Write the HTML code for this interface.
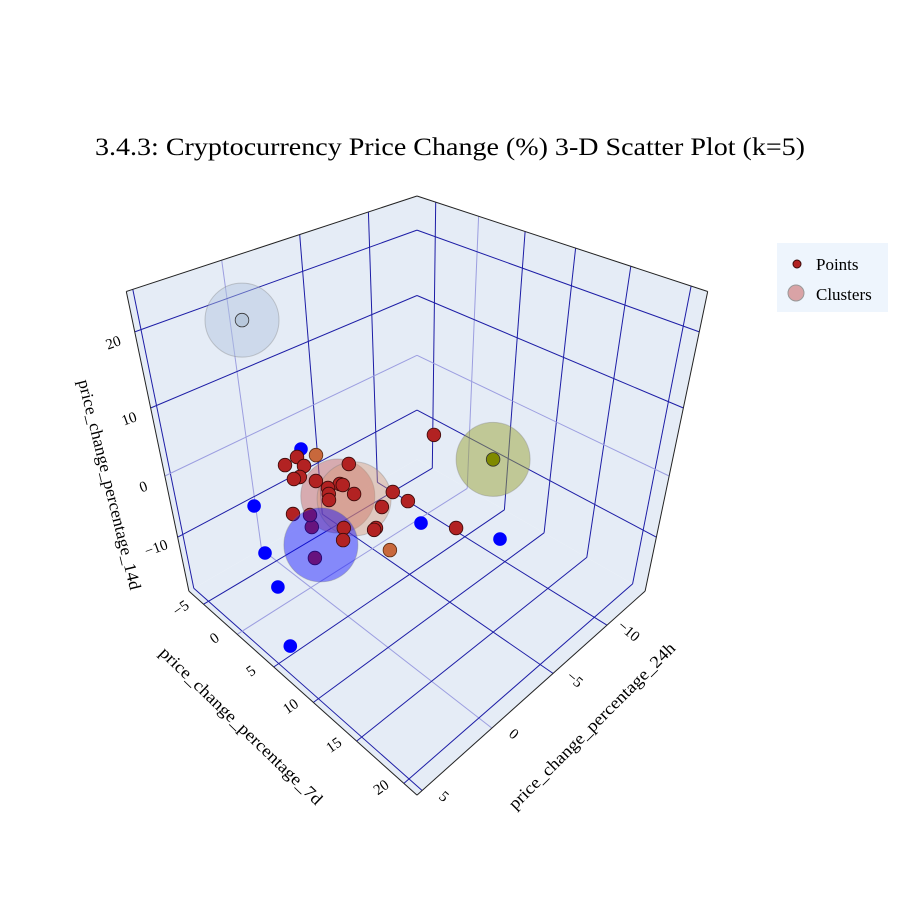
<!DOCTYPE html>
<html><head><meta charset="utf-8"><style>
html,body{margin:0;padding:0;background:#fff;}
svg{display:block;font-family:"Liberation Serif",serif;}
</style></head><body>
<svg id="chart" width="900" height="900" viewBox="0 0 900 900">
<rect x="0" y="0" width="900" height="900" fill="#fff"/>
<text x="95" y="155" font-size="25" textLength="710" lengthAdjust="spacingAndGlyphs" fill="#000">3.4.3: Cryptocurrency Price Change (%) 3-D Scatter Plot (k=5)</text>
<g id="scene"></g>
<g>
<rect x="777" y="243" width="111" height="69" fill="#eef5fd"/>
<g>
<circle cx="797" cy="264" r="4" fill="#b22222" stroke="#3a0a0a" stroke-width="1"/>
<text x="816" y="270" font-size="17" fill="#000">Points</text>
</g>
<g>
<circle cx="796" cy="293" r="8" fill="#d9a3a6" stroke="#999" stroke-width="1"/>
<text x="816" y="300" font-size="17" fill="#000">Clusters</text>
</g>
</g>
</svg>
<script>
// ---- data ----
const xRange = [-13.92, 5.34];   // price_change_percentage_24h
const yRange = [-7.3, 21.3];     // price_change_percentage_7d
const zRange = [-19.75, 24.85];  // price_change_percentage_14d
const xTicks = [-10, -5, 0, 5];
const yTicks = [-5, 0, 5, 10, 15, 20];
const zTicks = [-10, 0, 10, 20];
const pointX = [-8.71,-1.52,-0.54,-1.24,-0.07,-0.42,-0.81,-3.16,-0.87,-0.55,-0.22,-1.56,-1.62,-1.52,-3.12,-3.14,-1.81,1.89,-0.41,-0.24,0.76,1.41,-3.32,1.31,0.49,0.71,-2.41,0.26,-2.19,2.93,4.79,4.15,4.76,-2.33,-4.25,1.12,-6.09];
const pointY = [2.55,-3.34,-3.12,-1.89,-1.04,-0.92,0.45,0.55,1.88,2.54,3.14,2.15,2.42,3.97,5.98,7.69,6.77,2.52,8.34,8.40,6.60,7.63,12.66,3.55,1.97,2.45,-2.42,10.93,-4.04,-0.44,4.67,4.33,6.43,10.35,15.87,-2.98,12.53];
const pointZ = [-1.91,-1.91,-1.91,-1.91,-1.91,-1.91,-1.91,-1.91,-1.91,-1.91,-1.91,-1.91,-1.91,-1.91,-1.91,-1.91,-1.91,-1.91,-1.91,-1.91,-1.91,-1.91,-1.91,-1.91,-6.37,-10.83,-1.91,-1.91,-1.91,-1.91,-1.91,-8.60,-15.29,-1.91,-1.91,20.39,4.78];
const pointCluster = [0,0,0,0,0,0,0,0,0,0,0,0,0,0,0,0,0,0,0,0,0,0,0,0,0,0,1,1,2,2,2,2,2,2,2,3,4];
const clusterX = [-0.78,-1.23,1.77,1.12,-6.09];
const clusterY = [3.25,4.45,5.54,-2.98,12.53];
const clusterZ = [-1.91,-1.91,-4.14,20.39,4.78];
const clusterSize = [37,37,37,37,37];

// ---- styles ----
const pointFill = ['#b22222','#c8683c','#0000ff','#b8c8dc','#7f8a00'];
const pointStroke = ['#3a0a0a','#5a2a10','none','#333','#333'];
const clusterFill = ['rgba(200,100,100,0.48)','rgba(215,150,115,0.42)','rgba(0,0,255,0.42)','rgba(176,196,222,0.45)','rgba(155,164,54,0.5)'];

// ---- projection ----
const E3 = 8.28, K = 611, CX = 417, CY = 459.4;
function nrm(v, r){ return (v - (r[0]+r[1])/2) / ((r[1]-r[0])/2); }
function projN(px,py,pz){
  const D = E3 - (px+py+pz);
  return [CX + K*Math.sqrt(3)*(py-px)/D, CY - K*(2*pz-px-py)/D, D];
}
function proj(x,y,z){ return projN(nrm(x,xRange), nrm(y,yRange), nrm(z,zRange)); }

const NS = 'http://www.w3.org/2000/svg';
const scene = document.getElementById('scene');
function mk(tag, attrs, parent){
  const e = document.createElementNS(NS, tag);
  for (const k in attrs) e.setAttribute(k, attrs[k]);
  (parent||scene).appendChild(e);
  return e;
}
function poly(pts){ return pts.map(p=>p[0].toFixed(1)+','+p[1].toFixed(1)).join(' '); }

// walls
const floor = mk('polygon',{points:poly([projN(-1,-1,-1),projN(1,-1,-1),projN(1,1,-1),projN(-1,1,-1)]),fill:'#e5ecf6'});


const wallY = mk('polygon',{points:poly([projN(-1,-1,-1),projN(1,-1,-1),projN(1,-1,1),projN(-1,-1,1)]),fill:'#e5ecf6'});


const wallX = mk('polygon',{points:poly([projN(-1,-1,-1),projN(-1,1,-1),projN(-1,1,1),projN(-1,-1,1)]),fill:'#e5ecf6'});



function gl(a,b,isZero,name){
  const l = mk('line',{x1:a[0].toFixed(1),y1:a[1].toFixed(1),x2:b[0].toFixed(1),y2:b[1].toFixed(1),stroke:isZero?'#9c9ee0':'#1d1da6','stroke-width':1});
  
  
}
xTicks.forEach(t=>{
  const px = nrm(t,xRange);
  gl(projN(px,-1,-1),projN(px,-1,1),t===0,'x-gridline-wall');
  gl(projN(px,-1,-1),projN(px,1,-1),t===0,'x-gridline-floor');
});
yTicks.forEach(t=>{
  const py = nrm(t,yRange);
  gl(projN(-1,py,-1),projN(-1,py,1),t===0,'y-gridline-wall');
  gl(projN(-1,py,-1),projN(1,py,-1),t===0,'y-gridline-floor');
});
zTicks.forEach(t=>{
  const pz = nrm(t,zRange);
  gl(projN(1,-1,pz),projN(-1,-1,pz),t===0,'z-gridline-left-wall');
  gl(projN(-1,-1,pz),projN(-1,1,pz),t===0,'z-gridline-right-wall');
});
// box edges
const edges = [[[1,-1,1],[-1,-1,1]],[[-1,-1,1],[-1,1,1]],[[1,-1,1],[1,-1,-1]],[[-1,1,1],[-1,1,-1]],[[1,-1,-1],[1,1,-1]],[[1,1,-1],[-1,1,-1]]];
edges.forEach(e=>{
  const a = projN(...e[0]), b = projN(...e[1]);
  const l = mk('line',{x1:a[0].toFixed(1),y1:a[1].toFixed(1),x2:b[0].toFixed(1),y2:b[1].toFixed(1),stroke:'#222','stroke-width':1});
  
  
});

// tick labels
function lbl(txt,x,y,rot,name,size){
  const t = mk('text',{x:x.toFixed(1),y:y.toFixed(1),'font-size':size||15,'text-anchor':'middle','dominant-baseline':'middle',transform:'rotate('+rot+' '+x.toFixed(1)+' '+y.toFixed(1)+')',fill:'#000'});
  t.textContent = txt;
  
  
  return t;
}
function fmt(t){ return t<0 ? '\u2212'+Math.abs(t) : String(t); }
zTicks.forEach(t=>{ const p = projN(1,-1,nrm(t,zRange)); lbl(fmt(t), p[0]-21, p[1]+12, -20, 'z-tick-label'); });
yTicks.forEach(t=>{ const p = projN(1,nrm(t,yRange),-1); lbl(fmt(t), p[0]-22, p[1]+5, -35, 'y-tick-label'); });
xTicks.forEach(t=>{ const p = projN(nrm(t,xRange),1,-1); lbl(fmt(t), p[0]+21, p[1]+7, 40, 'x-tick-label'); });
// axis titles
const zt = lbl('price_change_percentage_14d',108,485,76,'z-axis-title',17); zt.setAttribute('textLength','216'); zt.setAttribute('lengthAdjust','spacingAndGlyphs');
const yt = lbl('price_change_percentage_7d',240,727,44,'y-axis-title',17); yt.setAttribute('textLength','219'); yt.setAttribute('lengthAdjust','spacingAndGlyphs');
const xt = lbl('price_change_percentage_24h',593,727,-45,'x-axis-title',17); xt.setAttribute('textLength','228'); xt.setAttribute('lengthAdjust','spacingAndGlyphs');

// marks (depth sorted); cluster spheres 0,1,3,4 drawn first
const items = [];
clusterX.forEach((cx,i)=>{
  const p = proj(cx, clusterY[i], clusterZ[i]);
  items.push({kind:'cluster', i, p, early: i!==2});
});
pointX.forEach((px,i)=>{
  const p = proj(px, pointY[i], pointZ[i]);
  items.push({kind:'point', i, p, early:false});
});
items.sort((a,b)=> (a.early===b.early) ? (b.p[2]-a.p[2]) : (a.early ? -1 : 1));
items.forEach(it=>{
  if (it.kind==='cluster'){
    const c = mk('circle',{cx:it.p[0].toFixed(1),cy:it.p[1].toFixed(1),r:clusterSize[it.i],fill:clusterFill[it.i],stroke:'rgba(120,120,120,0.35)','stroke-width':1});
    
    
  } else {
    const k = pointCluster[it.i];
    const c = mk('circle',{cx:it.p[0].toFixed(1),cy:it.p[1].toFixed(1),r:6.8,fill:pointFill[k],stroke:pointStroke[k],'stroke-width':0.8});
    
    
  }
});
</script>
</body></html>
